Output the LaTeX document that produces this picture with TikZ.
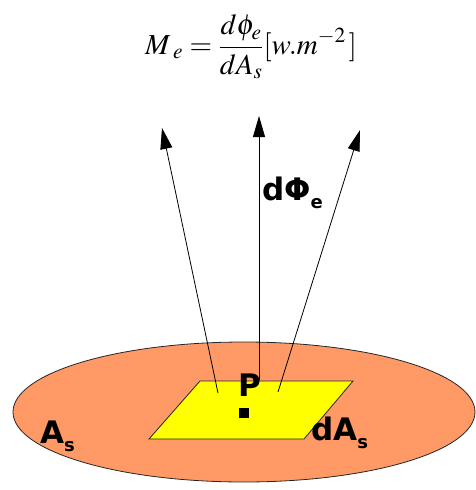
\documentclass[tikz,border=0pt]{standalone}
\usepackage[no-math]{fontspec}
\usepackage{mathptmx}
\usetikzlibrary{arrows.meta}
\newfontfamily\labfont{DejaVu Sans}
\definecolor{salmon}{RGB}{255,153,102}
\definecolor{patch}{RGB}{255,255,0}
\tikzset{
  lab/.style={font=\labfont\bfseries\fontsize{31}{33}\selectfont, inner sep=0pt, anchor=base west},
  ray/.style={line width=0.8pt, -{Triangle[length=21pt,width=12pt]}},
  outl/.style={draw=black!85, line width=0.8pt}
}
\newcommand{\lsub}[1]{\raisebox{-0.28em}{\fontsize{18}{18}\selectfont #1}}
\begin{document}
\begin{tikzpicture}[x=1pt,y=-1pt]
\useasboundingbox (0,0) rectangle (475,490);
% big surface
\draw[outl, fill=salmon] (244,412) ellipse [x radius=231pt, y radius=70pt];
% patch
\draw[outl, fill=patch] (200,381) -- (353,381) -- (304,439) -- (149,439) -- cycle;
% point
\node[fill=black, minimum size=10pt, inner sep=0pt] (pt) at (244,413) {};
% ray start/end points
\coordinate (s1) at (218,393);
\coordinate (s2) at (259,380);
\coordinate (s3) at (278,392);
\coordinate (e1) at (162,128);
\coordinate (e2) at (259,116);
\coordinate (e3) at (360,130);
\draw[ray] (s1) -- (e1);
\draw[ray] (s2) -- (e2);
\draw[ray] (s3) -- (e3);
% labels
\node[lab] (P) at (238,396) {P};
\node[lab] (dphi) at (262,200) {dΦ\lsub{e}};
\node[lab] (As) at (40,443) {A\lsub{s}};
\node[lab] (dAs) at (311,440) {dA\lsub{s}};
% formula
\node[inner sep=0pt, font=\fontsize{29}{34}\selectfont] (eq) at (251,47)
  {$\displaystyle M_{\;e}=\frac{d\phi_e}{dA_s}[w.m^{-2}\,]$};
\end{tikzpicture}
\end{document}
